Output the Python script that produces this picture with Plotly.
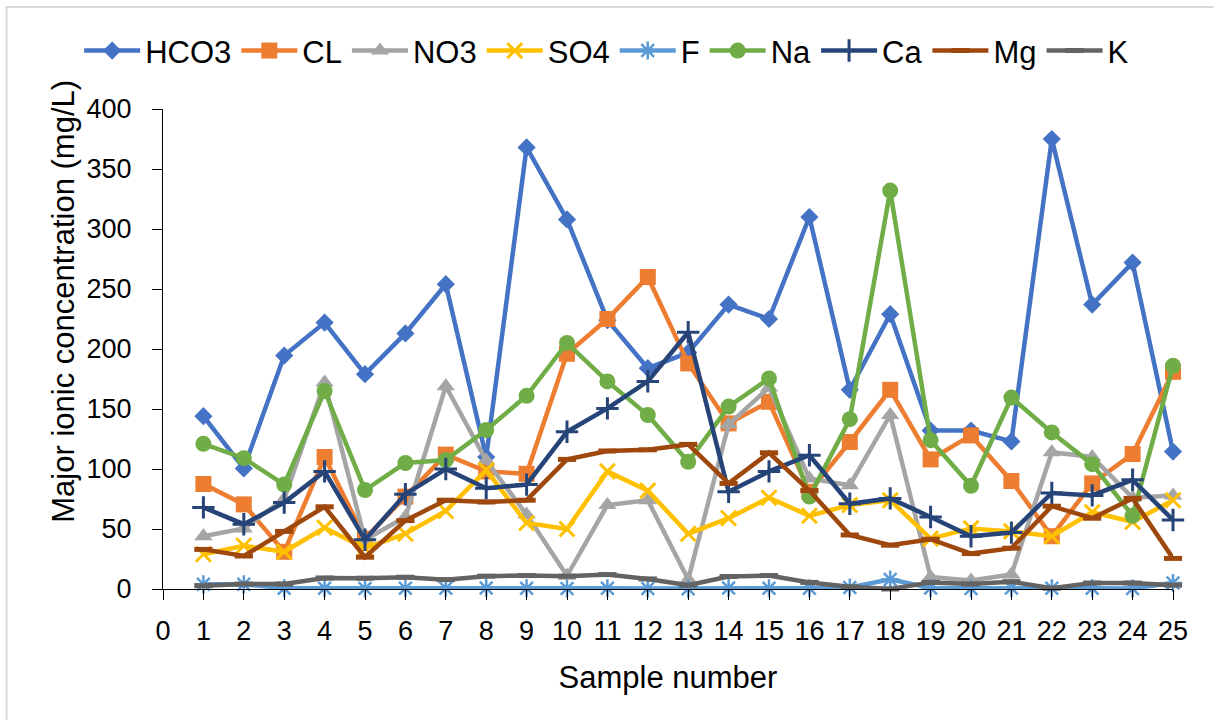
import plotly.graph_objects as go

# Sample numbers 1..25
samples = list(range(1, 26))

# Major ion concentrations (mg/L) per sample
hco3 = [144, 100.5, 194.5, 222, 179, 213, 254, 110, 368, 308, 224, 184, 197, 237, 225,
        310, 166, 229, 132, 132, 123, 375, 237, 272, 114.5]
cl = [87.5, 70.5, 31, 110, 42, 77, 112, 98, 96, 196, 225, 260, 188, 138, 156,
      81, 122.5, 166, 108, 128, 90, 44, 88, 112.5, 181]
no3 = [44, 50.5, 75, 172, 41, 60, 169, 107, 62, 11, 70, 74, 8, 137, 168,
       92, 86.5, 145, 10, 7, 12, 114, 110, 76, 78]
so4 = [29, 36, 31, 51, 34, 46, 65, 99, 55, 50, 98, 82, 46, 59, 76,
       61, 70, 74, 42, 50.5, 48, 44, 64, 56, 74]
f = [4, 4, 0.6, 0.7, 0.5, 0.6, 0.6, 0.8, 0.7, 0.5, 0.6, 0.4, 0.3, 0.8, 0.7,
     0.6, 1.2, 8, 0.8, 0.5, 0.9, 0.6, 0.7, 0.5, 5]
na = [121, 109, 87, 165, 82.5, 105, 107.5, 132.5, 161, 205, 173, 145, 106, 152, 175.5,
      77, 141.5, 332, 124, 86, 159.5, 130.5, 104, 61, 186]
ca = [68, 54, 72, 98, 41, 79, 100, 84, 87, 131, 150.5, 173, 214, 81, 98,
      111.5, 71, 75.5, 60, 44, 47, 80, 78, 91, 57.5]
mg = [33, 27.5, 48, 68.5, 26.5, 57, 74, 72.5, 74, 108, 115, 116, 120.5, 88, 113.5,
      82, 45, 36.5, 41.5, 29.5, 34, 69, 59, 75.5, 25.5]
k = [2.7, 4.1, 4.1, 9.2, 9, 9.8, 7.8, 10.7, 11.2, 10.7, 12, 8.4, 3.2, 10.4, 11.2,
     5.5, 1.8, 0, 5.5, 4.1, 6.1, 0.7, 5, 5, 3.2]

x_ticks = list(range(0, 26))
y_ticks = [0, 50, 100, 150, 200, 250, 300, 350, 400]

FONT = "Liberation Sans, Arial, sans-serif"

series = [
    ("HCO3", hco3, "#4472C4", dict(symbol="diamond", size=14)),
    ("CL", cl, "#ED7D31", dict(symbol="square", size=16)),
    ("NO3", no3, "#A5A5A5", dict(symbol="triangle-up", size=16)),
    ("SO4", so4, "#FFC000", dict(symbol="x-thin", size=15, line=dict(width=3, color="#FFC000"))),
    ("F", f, "#5B9BD5", dict(symbol="asterisk", size=15, line=dict(width=2.5, color="#5B9BD5"))),
    ("Na", na, "#70AD47", dict(symbol="circle", size=16)),
    ("Ca", ca, "#264478", dict(symbol="cross-thin", size=16, line=dict(width=3, color="#264478"))),
    ("Mg", mg, "#9E480E", dict(symbol="line-ew", size=13, line=dict(width=5, color="#9E480E"))),
    ("K", k, "#636363", dict(symbol="line-ew", size=13, line=dict(width=5, color="#636363"))),
]

fig = go.Figure()
for name, vals, color, mk in series:
    marker = dict(color=color, **mk)
    fig.add_trace(go.Scatter(
        x=samples, y=vals, name=name, mode="lines+markers",
        line=dict(color=color, width=4.5),
        marker=marker, cliponaxis=False,
    ))

fig.update_layout(
    width=1214, height=720,
    margin=dict(l=163, r=41, t=109, b=131),
    paper_bgcolor="white", plot_bgcolor="white",
    font=dict(family=FONT, color="black", size=27),
    showlegend=True,
    legend=dict(
        orientation="h", x=-0.083, xanchor="left", y=1.121, yanchor="middle",
        font=dict(family=FONT, size=31, color="black"),
        itemwidth=56, bgcolor="rgba(0,0,0,0)",
    ),
    annotations=[dict(
        text="Major ionic concentration (mg/L)", textangle=-90,
        xref="paper", yref="paper", x=-0.0985, y=0.5996,
        xanchor="center", yanchor="middle", showarrow=False,
        font=dict(family=FONT, size=31, color="black"),
    )],
    shapes=[dict(
        type="rect", xref="paper", yref="paper",
        x0=-0.1549, x1=1.2, y0=-0.5, y1=1.2127,
        line=dict(color="#D9D9D9", width=2), fillcolor="rgba(0,0,0,0)", layer="below",
    )],
)

fig.update_xaxes(
    range=[0, 25], tickmode="array", tickvals=x_ticks, ticktext=[str(v) for v in x_ticks],
    showgrid=False, zeroline=False, showline=True, linecolor="black", linewidth=1.2,
    ticks="outside", ticklen=10, tickcolor="black", tickwidth=1.2,
    ticklabelstandoff=7,
    tickfont=dict(family=FONT, size=27, color="black"),
    title=dict(text="Sample number", font=dict(family=FONT, size=31, color="black"), standoff=21),
)
fig.update_yaxes(
    range=[0, 400], tickmode="array", tickvals=y_ticks, ticktext=[str(v) for v in y_ticks],
    showgrid=False, zeroline=False, showline=True, linecolor="black", linewidth=1.2,
    ticks="outside", ticklen=10, tickcolor="black", tickwidth=1.2,
    ticklabelstandoff=15,
    tickfont=dict(family=FONT, size=27, color="black"),
)

fig.write_html("out.html")
